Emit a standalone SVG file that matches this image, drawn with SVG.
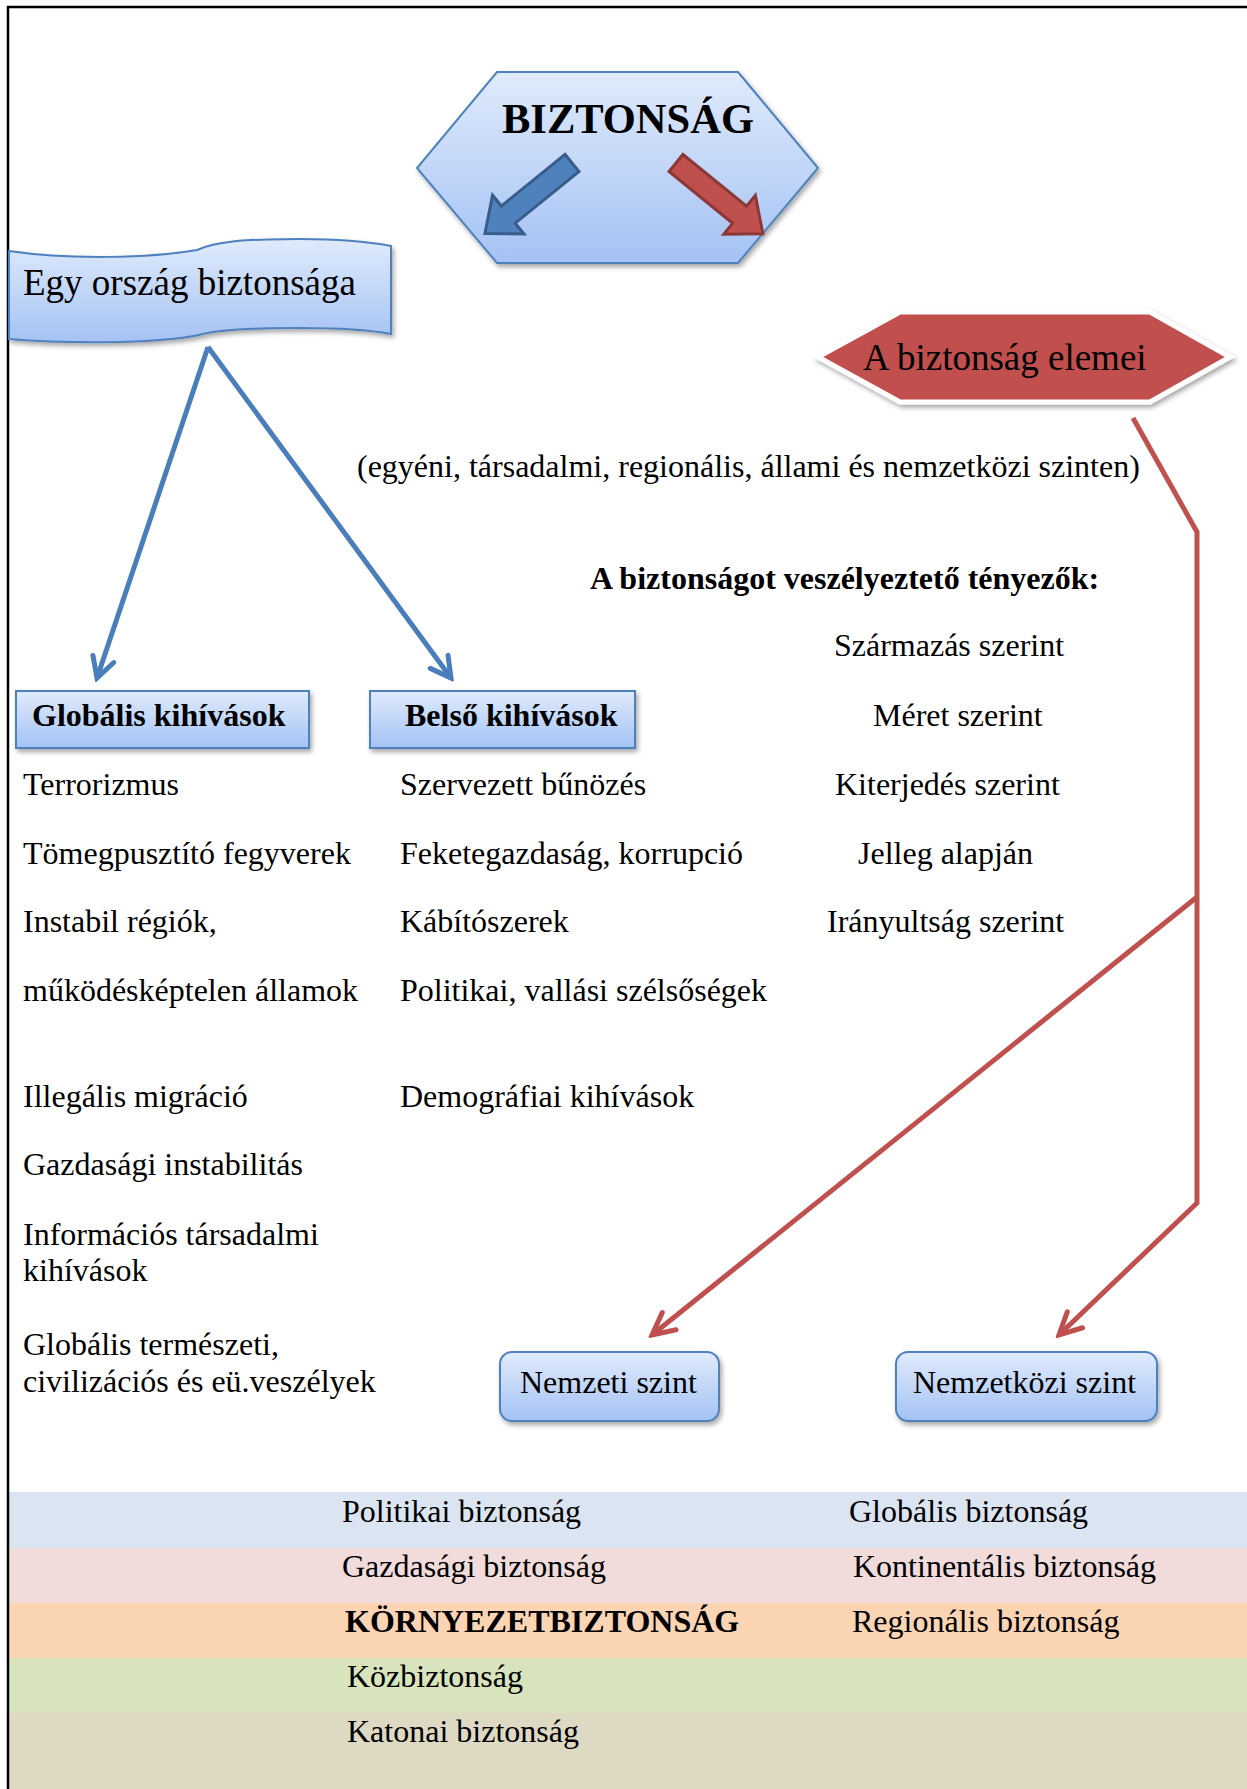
<svg xmlns="http://www.w3.org/2000/svg" width="1247" height="1789" viewBox="0 0 1247 1789">
<defs>
  <linearGradient id="gBlue" x1="0" y1="0" x2="0" y2="1">
    <stop offset="0" stop-color="#e0ebfc"/>
    <stop offset="1" stop-color="#a4c2f4"/>
  </linearGradient>
  <filter id="sh" x="-10%" y="-10%" width="125%" height="135%">
    <feDropShadow dx="2" dy="3" stdDeviation="2.5" flood-color="#000" flood-opacity="0.35"/>
  </filter>
  <marker id="mBlue" markerUnits="userSpaceOnUse" viewBox="-30 -16 34 32" markerWidth="34" markerHeight="32" refX="0" refY="0" orient="auto">
    <path d="M -20,-11 L 0,0 L -20,11" fill="none" stroke="#4a7ebb" stroke-width="5" stroke-linecap="round" stroke-linejoin="miter"/>
  </marker>
  <marker id="mRed" markerUnits="userSpaceOnUse" viewBox="-30 -16 34 32" markerWidth="34" markerHeight="32" refX="0" refY="0" orient="auto">
    <path d="M -22,-11 L 0,0 L -22,11" fill="none" stroke="#c0504d" stroke-width="5" stroke-linecap="round" stroke-linejoin="miter"/>
  </marker>
</defs>
<style>
  .t { font-family: "Liberation Serif", "Times New Roman", serif; font-size: 32px; fill: #000; }
  .b { font-weight: bold; }
  .box { fill: url(#gBlue); stroke: #4f81bd; stroke-width: 2; filter: url(#sh); }
  .blue { fill: none; stroke: #4a7ebb; stroke-width: 5; }
  .red { fill: none; stroke: #c0504d; stroke-width: 5; }
</style>

<rect x="0" y="0" width="1247" height="1789" fill="#fff"/>

<!-- bottom bands -->
<g id="bands">
  <rect x="9" y="1492" width="1238" height="56" fill="#dbe5f1"/>
  <rect x="9" y="1548" width="1238" height="55" fill="#f2dcdb"/>
  <rect x="9" y="1603" width="1238" height="55" fill="#fbd4b4"/>
  <rect x="9" y="1658" width="1238" height="55" fill="#d7e4bc"/>
  <rect x="9" y="1713" width="1238" height="76" fill="#ddd9c3"/>
</g>

<!-- frame -->
<path d="M 8,1789 L 8,7 L 1247,7" fill="none" stroke="#000" stroke-width="2.5"/>

<!-- connectors -->
<g id="connectors">
  <line class="blue" x1="208" y1="347" x2="97" y2="678" marker-end="url(#mBlue)"/>
  <line class="blue" x1="208" y1="347" x2="451" y2="678" marker-end="url(#mBlue)"/>
  <polyline class="red" points="1133,418 1197,532 1197,1203 1059,1335" marker-end="url(#mRed)"/>
  <line class="red" x1="1197" y1="897" x2="652" y2="1335" marker-end="url(#mRed)"/>
</g>

<!-- main hexagon -->
<g id="biztonsag">
  <polygon class="box" points="497,72 738,72 818,168 738,263 497,263 417,168"/>
  <text class="t b" x="502" y="133" style="font-size:42.5px">BIZTONSÁG</text>
  <g transform="translate(572,163) rotate(141)">
    <polygon points="0,-11 82,-11 82,-25 112,0 82,25 82,11 0,11" fill="#4f81bd" stroke="#385d8a" stroke-width="3" stroke-linejoin="miter"/>
  </g>
  <g transform="translate(676,163) rotate(39.15)">
    <polygon points="0,-11 82,-11 82,-25 112,0 82,25 82,11 0,11" fill="#c0504d" stroke="#8c3836" stroke-width="3" stroke-linejoin="miter"/>
  </g>
</g>

<!-- Egy orszag biztonsaga -->
<g id="egy-orszag">
  <path class="box" d="M 9,251 C 70,260 150,258 197,250 C 215,242 240,239 300,239 C 340,239 370,242 391,246 L 391,334 C 370,330 340,328 300,328 C 245,328 218,330 203,334 C 160,344 70,344 9,339 Z"/>
  <text class="t" x="23" y="295" style="font-size:37px">Egy ország biztonsága</text>
</g>

<!-- A biztonsag elemei -->
<g id="elemei">
  <polygon points="900,312 1150,312 1230,357 1150,402 900,402 818,357" fill="#c0504d" stroke="#fff" stroke-width="5" filter="url(#sh)"/>
  <text class="t" x="863" y="370" style="font-size:37px">A biztonság elemei</text>
</g>

<g id="szinten">
  <text class="t" x="357" y="477">(egyéni, társadalmi, regionális, állami és nemzetközi szinten)</text>
</g>

<g id="tenyezok">
  <text class="t b" x="590" y="589">A biztonságot veszélyeztető tényezők:</text>
  <text class="t" x="834" y="656">Származás szerint</text>
  <text class="t" x="873" y="726">Méret szerint</text>
  <text class="t" x="835" y="795">Kiterjedés szerint</text>
  <text class="t" x="858" y="864">Jelleg alapján</text>
  <text class="t" x="827" y="932">Irányultság szerint</text>
</g>

<g id="globalis">
  <rect class="box" x="16" y="691" width="293" height="57"/>
  <text class="t b" x="32" y="726">Globális kihívások</text>
</g>
<g id="belso">
  <rect class="box" x="370" y="691" width="265" height="57"/>
  <text class="t b" x="405" y="726">Belső kihívások</text>
</g>

<g id="globalis-lista">
  <text class="t" x="23" y="795">Terrorizmus</text>
  <text class="t" x="23" y="864">Tömegpusztító fegyverek</text>
  <text class="t" x="23" y="932">Instabil régiók,</text>
  <text class="t" x="23" y="1001">működésképtelen államok</text>
  <text class="t" x="23" y="1107">Illegális migráció</text>
  <text class="t" x="23" y="1175">Gazdasági instabilitás</text>
  <text class="t" x="23" y="1245">Információs társadalmi</text>
  <text class="t" x="23" y="1281">kihívások</text>
  <text class="t" x="23" y="1355">Globális természeti,</text>
  <text class="t" x="23" y="1392">civilizációs és eü.veszélyek</text>
</g>

<g id="belso-lista">
  <text class="t" x="400" y="795">Szervezett bűnözés</text>
  <text class="t" x="400" y="864">Feketegazdaság, korrupció</text>
  <text class="t" x="400" y="932">Kábítószerek</text>
  <text class="t" x="400" y="1001">Politikai, vallási szélsőségek</text>
  <text class="t" x="400" y="1107">Demográfiai kihívások</text>
</g>

<g id="nemzeti">
  <rect class="box" x="500" y="1352" width="219" height="69" rx="12"/>
  <text class="t" x="520" y="1393">Nemzeti szint</text>
</g>
<g id="nemzetkozi">
  <rect class="box" x="896" y="1352" width="261" height="69" rx="12"/>
  <text class="t" x="913" y="1393">Nemzetközi szint</text>
</g>

<g id="band-texts">
  <text class="t" x="342" y="1522">Politikai biztonság</text>
  <text class="t" x="849" y="1522">Globális biztonság</text>
  <text class="t" x="342" y="1577">Gazdasági biztonság</text>
  <text class="t" x="853" y="1577">Kontinentális biztonság</text>
  <text class="t b" x="345" y="1632">KÖRNYEZETBIZTONSÁG</text>
  <text class="t" x="852" y="1632">Regionális biztonság</text>
  <text class="t" x="347" y="1687">Közbiztonság</text>
  <text class="t" x="347" y="1742">Katonai biztonság</text>
</g>
</svg>
